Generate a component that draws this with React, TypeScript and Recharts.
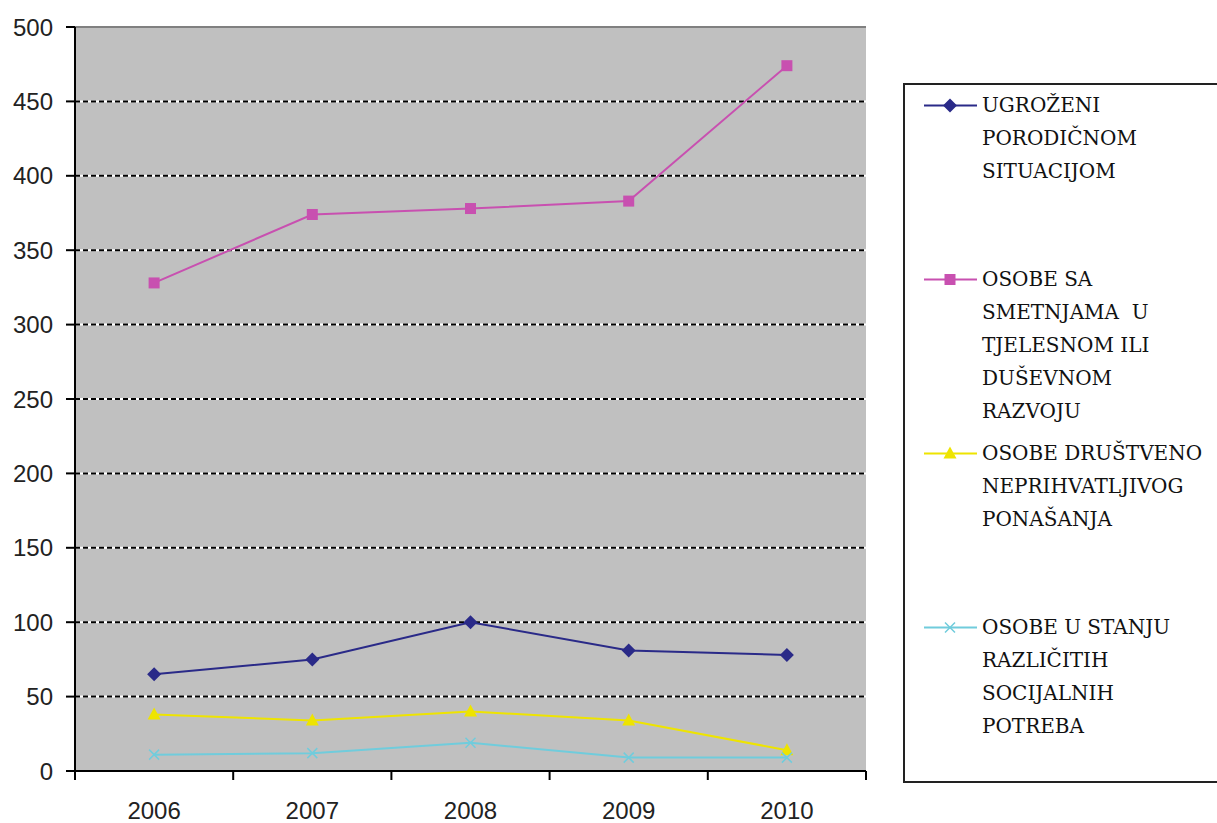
import React from 'react';
import { LineChart, Line, XAxis, YAxis, CartesianGrid, ReferenceLine } from 'recharts';

const years = ['2006', '2007', '2008', '2009', '2010'];
const ugrozeni = [65, 75, 100, 81, 78];
const smetnje = [328, 374, 378, 383, 474];
const drustveno = [38, 34, 40, 34, 14];
const potrebe = [11, 12, 19, 9, 9];
const yTicks = [0, 50, 100, 150, 200, 250, 300, 350, 400, 450, 500];

const series = [
  { key: 'ugrozeni', values: ugrozeni, color: '#2A2A88', marker: 'diamond', lines: ['UGROŽENI', 'PORODIČNOM', 'SITUACIJOM'] },
  { key: 'smetnje', values: smetnje, color: '#C850B0', marker: 'square', lines: ['OSOBE SA', 'SMETNJAMA  U', 'TJELESNOM ILI', 'DUŠEVNOM', 'RAZVOJU'] },
  { key: 'drustveno', values: drustveno, color: '#EEE400', marker: 'triangle', lines: ['OSOBE DRUŠTVENO', 'NEPRIHVATLJIVOG', 'PONAŠANJA'] },
  { key: 'potrebe', values: potrebe, color: '#70CCDC', marker: 'x', lines: ['OSOBE U STANJU', 'RAZLIČITIH', 'SOCIJALNIH', 'POTREBA'] },
];

const data = years.map((year, i) => {
  const row: Record<string, any> = { year };
  series.forEach((s) => (row[s.key] = s.values[i]));
  return row;
});

const CHART_W = 880;
const CHART_H = 823;
const Y_AXIS_W = 75;
const X_AXIS_H = 30;
const MARGIN = { top: 27, right: 14, left: 0, bottom: 22 };
const PLOT_W = CHART_W - Y_AXIS_W - MARGIN.left - MARGIN.right;
const BAND = PLOT_W / years.length;

function markerShape(marker: string, cx: number, cy: number, color: string, k?: string) {
  if (marker === 'diamond') {
    return <path key={k} d={`M${cx},${cy - 7}L${cx + 7},${cy}L${cx},${cy + 7}L${cx - 7},${cy}Z`} fill={color} />;
  }
  if (marker === 'square') {
    return <rect key={k} x={cx - 5.5} y={cy - 5.5} width={11} height={11} fill={color} />;
  }
  if (marker === 'triangle') {
    return <path key={k} d={`M${cx},${cy - 7}L${cx + 6.5},${cy + 5}L${cx - 6.5},${cy + 5}Z`} fill={color} />;
  }
  return (
    <path
      key={k}
      d={`M${cx - 5},${cy - 5}L${cx + 5},${cy + 5}M${cx - 5},${cy + 5}L${cx + 5},${cy - 5}`}
      stroke={color}
      strokeWidth={1.5}
      fill="none"
    />
  );
}

const XTick = (props: any) => {
  const { x, y, payload, index } = props;
  const half = BAND / 2;
  return (
    <g>
      <line x1={x - half} x2={x - half} y1={y} y2={y + 9} stroke="#000" strokeWidth={2} />
      {index === years.length - 1 && (
        <line x1={x + half} x2={x + half} y1={y} y2={y + 9} stroke="#000" strokeWidth={2} />
      )}
      <text x={x} y={y + 39} textAnchor="middle" dominantBaseline="central" fontSize={24} fill="#222" fontFamily="Liberation Sans">
        {payload.value}
      </text>
    </g>
  );
};

export default function App() {
  return (
    <div style={{ position: 'absolute', left: 0, top: 0, width: 1217, height: 823, background: '#fff', overflow: 'hidden' }}>
      <LineChart width={CHART_W} height={CHART_H} data={data} margin={MARGIN}>
        <CartesianGrid vertical={false} fill="#C0C0C0" stroke="#FFFFFF" strokeWidth={2} />
        <CartesianGrid vertical={false} stroke="#000000" strokeWidth={2} strokeDasharray="5 3" />
        <ReferenceLine y={500} stroke="#808080" strokeWidth={2} />
        <XAxis
          dataKey="year"
          height={X_AXIS_H}
          padding={{ left: BAND / 2, right: BAND / 2 }}
          axisLine={{ stroke: '#000', strokeWidth: 2 }}
          tickLine={false}
          tickSize={0}
          tickMargin={0}
          tick={<XTick />}
          interval={0}
        />
        <YAxis
          width={Y_AXIS_W}
          domain={[0, 500]}
          ticks={yTicks}
          interval={0}
          axisLine={{ stroke: '#000', strokeWidth: 2 }}
          tickLine={{ stroke: '#000', strokeWidth: 2 }}
          tickSize={9}
          tickMargin={13}
          tick={{ fontSize: 24, fill: '#222', fontFamily: 'Liberation Sans' }}
        />
        <YAxis
          yAxisId="right"
          orientation="right"
          width={0}
          domain={[0, 500]}
          tick={false}
          tickLine={false}
          axisLine={{ stroke: '#808080', strokeWidth: 2 }}
        />
        {series.map((s) => (
          <Line
            key={s.key}
            dataKey={s.key}
            type="linear"
            stroke={s.color}
            strokeWidth={2}
            isAnimationActive={false}
            dot={(p: any) => markerShape(s.marker, p.cx, p.cy, s.color, `${s.key}-${p.index}`)}
            activeDot={false}
          />
        ))}
      </LineChart>
      <div
        style={{
          position: 'absolute',
          left: 903,
          top: 83,
          width: 330,
          height: 692,
          border: '2px solid #222',
          paddingTop: 4,
          boxSizing: 'content-box',
        }}
      >
        {series.map((s) => (
          <div key={s.key} style={{ height: 174, display: 'flex', alignItems: 'flex-start' }}>
            <svg width={56} height={33} style={{ marginLeft: 17, flex: 'none' }}>
              <line x1={2} x2={55} y1={16.5} y2={16.5} stroke={s.color} strokeWidth={2} />
              {markerShape(s.marker, 28, 16.5, s.color)}
            </svg>
            <div
              style={{
                marginLeft: 4,
                fontFamily: "'DejaVu Serif', 'Liberation Serif', serif",
                fontSize: 20,
                lineHeight: '33px',
                color: '#111',
                whiteSpace: 'pre',
              }}
            >
              {s.lines.join('\n')}
            </div>
          </div>
        ))}
      </div>
    </div>
  );
}
